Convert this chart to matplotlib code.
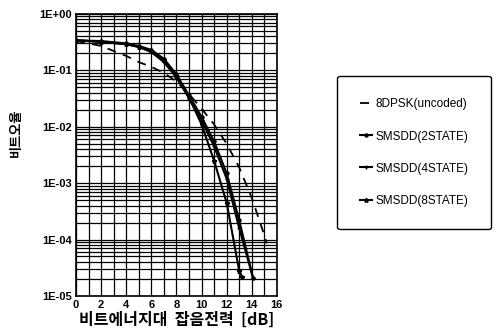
import matplotlib
matplotlib.use("Agg")
import matplotlib.pyplot as plt
from matplotlib.ticker import LogLocator, MultipleLocator, NullFormatter
import numpy as np

# Eb/N0 (dB) and bit error rate
snr_dpsk = [0, 1, 2, 3, 4, 5, 6, 7, 8, 9, 10, 11, 12, 13, 14, 15, 15.2]
ber_dpsk = [0.33, 0.30, 0.27, 0.22, 0.18, 0.14, 0.115, 0.09, 0.063, 0.038,
            0.021, 0.011, 5.0e-3, 1.9e-3, 5.5e-4, 1.2e-4, 8.5e-5]

snr_2state = [0, 2, 4, 5, 6, 7, 8, 9, 10, 11, 12, 13, 14.1]
ber_2state = [0.34, 0.33, 0.30, 0.27, 0.23, 0.16, 0.085, 0.036, 0.015,
              5.5e-3, 1.5e-3, 2.2e-4, 2.1e-5]

snr_4state = [0, 2, 4, 5, 6, 7, 8, 9, 10, 11, 12, 13, 14.1]
ber_4state = [0.34, 0.32, 0.29, 0.26, 0.21, 0.14, 0.075, 0.032, 0.013,
              4.5e-3, 1.2e-3, 1.6e-4, 2.1e-5]

snr_8state = [0, 2, 4, 5, 6, 7, 8, 9, 10, 11, 12, 13, 13.2]
ber_8state = [0.34, 0.32, 0.29, 0.26, 0.22, 0.15, 0.08, 0.033, 0.011,
              2.5e-3, 4.5e-4, 2.8e-5, 2.2e-5]

labels = ['8DPSK(uncoded)', 'SMSDD(2STATE)', 'SMSDD(4STATE)', 'SMSDD(8STATE)']
xticks = [0, 2, 4, 6, 8, 10, 12, 14, 16]
yticks = [1e-5, 1e-4, 1e-3, 1e-2, 1e-1, 1e0]
ytick_labels = ['1E-05', '1E-04', '1E-03', '1E-02', '1E-01', '1E+00']

kr = ['Noto Sans CJK KR', 'DejaVu Sans']
plt.rcParams['font.family'] = ['Liberation Sans', 'DejaVu Sans']

fig = plt.figure(figsize=(4.97, 3.31), dpi=100)
ax = fig.add_axes([0.153, 0.106, 0.404, 0.852])

ax.plot(snr_dpsk, ber_dpsk, color='black', lw=1.3, ls=(0, (5, 4)), label=labels[0])
ax.plot(snr_2state, ber_2state, color='black', lw=1.5, marker='o', ms=2.2, label=labels[1])
ax.plot(snr_4state, ber_4state, color='black', lw=1.5, marker='+', ms=3.5, label=labels[2])
ax.plot(snr_8state, ber_8state, color='black', lw=1.5, marker='*', ms=3.5, label=labels[3])

ax.set_yscale('log')
ax.set_xlim(0, 16)
ax.set_ylim(1e-5, 1)
ax.set_xticks(xticks)
ax.set_xticklabels([str(v) for v in xticks], fontsize=8, fontweight='bold')
ax.set_yticks(yticks)
ax.set_yticklabels(ytick_labels, fontsize=8, fontweight='bold')
ax.xaxis.set_minor_locator(MultipleLocator(1))
ax.yaxis.set_minor_locator(LogLocator(base=10, subs=np.arange(2, 10)))
ax.yaxis.set_minor_formatter(NullFormatter())
ax.tick_params(which='both', length=0, pad=3)
ax.grid(which='both', color='black', lw=0.9)
for s in ax.spines.values():
    s.set_linewidth(1.2)

ax.set_xlabel('비트에너지대  잡음전력  [dB]', family=kr, fontsize=11.5,
              fontweight='bold', labelpad=1)
ax.set_ylabel('비트오율', family=kr, fontsize=9.5, fontweight='bold')
ax.yaxis.set_label_coords(-0.265, 0.58)

leg = fig.legend(loc='center', bbox_to_anchor=(0.833, 0.539), frameon=True,
                 fancybox=True, edgecolor='black', fontsize=8.5,
                 handlelength=1.0, handletextpad=0.3, labelspacing=1.7,
                 borderpad=1.9, borderaxespad=0)
leg.get_frame().set_linewidth(1.0)
leg.get_frame().set_alpha(1)

fig.savefig('out.png', dpi=100)
